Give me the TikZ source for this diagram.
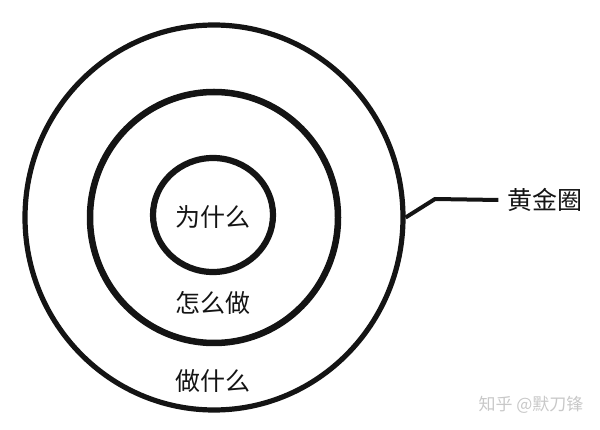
\documentclass[tikz,border=0pt]{standalone}
\usepackage{fontspec}
\setmainfont{Noto Sans CJK SC}
\usetikzlibrary{shapes.geometric,positioning}
\definecolor{inkBlack}{RGB}{20,20,20}
\definecolor{markGray}{RGB}{200,200,200}

\tikzset{
  ring/.style={draw=inkBlack, ellipse, inner sep=0pt},
  ringtext/.style={text=inkBlack, font=\fontsize{25}{29}\selectfont, inner sep=0pt}
}

\begin{document}
\begin{tikzpicture}[x=1pt, y=-1pt]
\useasboundingbox (0,0) rectangle (600,430);

% three rings
\node[ring, line width=5.2pt, minimum width=378pt, minimum height=385pt] (outer) at (214,217.5) {};
\node[ring, line width=6.5pt, minimum width=248pt, minimum height=251pt] (middle) at (214,217.5) {};
\node[ring, line width=6.2pt, minimum width=120pt, minimum height=114pt] (inner) at (213,215) {};

% labels of the rings
\node[ringtext] (why) at (213,217) {为什么};
\node[ringtext] (how) at (213,303) {怎么做};
\node[ringtext] (what) at (213,381) {做什么};

% name of the whole
\node[ringtext, inner sep=9pt] (gold) at (545,200) {黄金圈};
\coordinate (bend) at (435,199);
\draw[inkBlack, line width=4pt, line join=round] (outer.east) -- (bend) -- (gold.west);

\node[text=markGray, font=\fontsize{17}{20}\selectfont] (mark) at (531,405) {知乎 @默刀锋};
\end{tikzpicture}
\end{document}
